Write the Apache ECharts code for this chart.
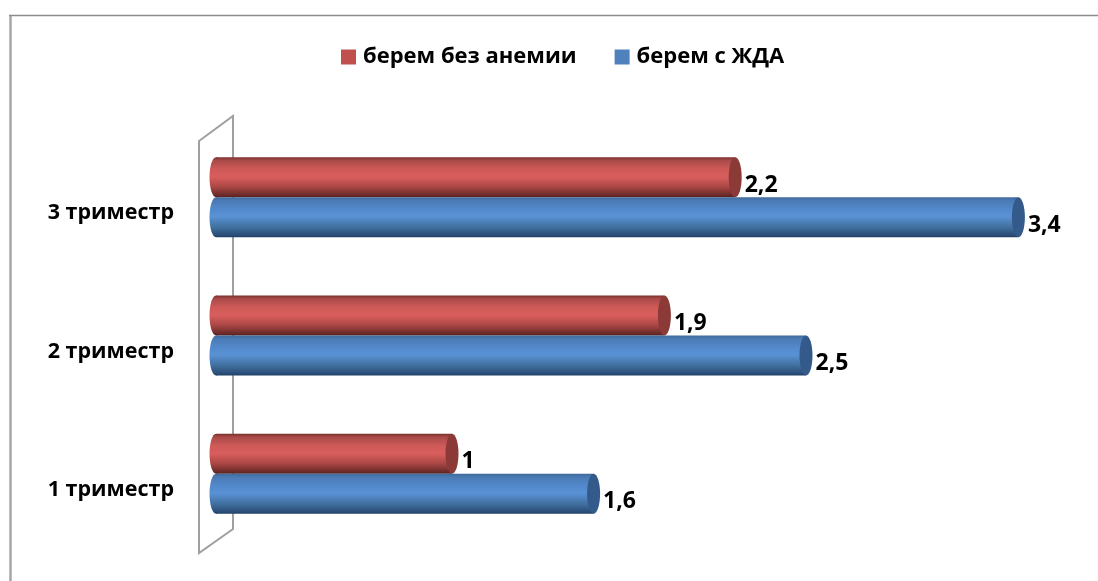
<!DOCTYPE html>
<html>
<head>
<meta charset="utf-8">
<style>html,body{margin:0;padding:0;background:#fff}#chart{width:1098px;height:581px}</style>
<script src="https://cdn.jsdelivr.net/npm/echarts@6/dist/echarts.min.js"></script>
</head>
<body>
<div id="chart"></div>
<script>
var categories = ['1 триместр', '2 триместр', '3 триместр'];
var noAnemia = [1, 1.9, 2.2];
var withIda = [1.6, 2.5, 3.4];
var fontName = '"Open Sans", sans-serif';

function gradient(stops) {
    return new echarts.graphic.LinearGradient(0, 0, 0, 1, stops);
}

// horizontal cylinder: body + left round + darker end cap
function cylinder(capColor, fill, slot) {
    return function (params, api) {
        var end = api.coord([api.value(0), api.value(1)]);
        var start = api.coord([0, api.value(1)]);
        var band = api.size([0, 1])[1];
        var h = band * 0.289;
        var y = end[1] + (slot === 0 ? -h : 0);
        var rx = 6.5;
        var val = String(api.value(0)).replace('.', ',');
        return {
            type: 'group',
            children: [
                {type: 'ellipse', shape: {cx: start[0], cy: y + h / 2, rx: rx, ry: h / 2}, style: {fill: fill}},
                {type: 'rect', shape: {x: start[0], y: y, width: end[0] - start[0], height: h}, style: {fill: fill}},
                {type: 'ellipse', shape: {cx: end[0], cy: y + h / 2, rx: rx, ry: h / 2}, style: {fill: capColor}},
                {
                    type: 'text',
                    x: end[0] + rx + 3,
                    y: y + h / 2 + 8,
                    style: {
                        text: val,
                        fill: '#000',
                        font: 'bold 23px ' + fontName,
                        textVerticalAlign: 'middle'
                    }
                }
            ]
        };
    };
}

var redFill = gradient([
    {offset: 0, color: '#7a302e'},
    {offset: 0.08, color: '#a84a48'},
    {offset: 0.3, color: '#cf5a58'},
    {offset: 0.5, color: '#d85e5c'},
    {offset: 0.75, color: '#a84644'},
    {offset: 0.95, color: '#6a2a28'},
    {offset: 1, color: '#552220'}
]);
var blueFill = gradient([
    {offset: 0, color: '#41699b'},
    {offset: 0.08, color: '#4a7ab4'},
    {offset: 0.3, color: '#5389cc'},
    {offset: 0.48, color: '#5a92d6'},
    {offset: 0.75, color: '#41709f'},
    {offset: 0.95, color: '#2a4d78'},
    {offset: 1, color: '#213f64'}
]);

var chart = echarts.init(document.getElementById('chart'));
chart.setOption({
    animation: false,
    backgroundColor: '#fff',
    graphic: [
        {type: 'line', z: 0, shape: {x1: 10.5, y1: 15, x2: 10.5, y2: 581}, style: {stroke: '#a6a6a6', lineWidth: 2.5}},
        {type: 'line', z: 0, shape: {x1: 9, y1: 15.5, x2: 1098, y2: 15.5}, style: {stroke: '#8c8c8c', lineWidth: 1.5}},
        {type: 'polygon', z: 0, shape: {points: [[199, 141], [233, 116], [233, 529], [199, 553]]}, style: {fill: 'none', stroke: '#a0a0a0', lineWidth: 2}}
    ],
    legend: {
        left: 336,
        top: 41,
        itemWidth: 15,
        itemHeight: 15,
        itemGap: 38,
        selectedMode: false,
        textStyle: {fontFamily: fontName, fontWeight: 'bold', fontSize: 22, color: '#000', padding: [0, 0, 0, 2]},
        data: [
            {name: 'берем без анемии', icon: 'rect', itemStyle: {color: '#c0504d'}},
            {name: 'берем с ЖДА', icon: 'rect', itemStyle: {color: '#4f81bd'}}
        ]
    },
    grid: {left: 216, right: 56, top: 128, bottom: 38},
    xAxis: {type: 'value', min: 0, max: 3.5, show: false},
    yAxis: {
        type: 'category',
        data: categories,
        axisLine: {show: false},
        axisTick: {show: false},
        axisLabel: {
            margin: 42,
            fontFamily: fontName,
            fontWeight: 'bold',
            fontSize: 21.5,
            color: '#000',
            verticalAlign: 'top',
            lineHeight: 32
        }
    },
    series: [
        {
            name: 'берем без анемии',
            type: 'custom',
            coordinateSystem: 'cartesian2d',
            itemStyle: {color: '#c0504d'},
            renderItem: cylinder('#8b3a38', redFill, 0),
            encode: {x: 0, y: 1},
            data: noAnemia.map(function (v, i) { return [v, i]; }),
            clip: false,
            z: 3
        },
        {
            name: 'берем с ЖДА',
            type: 'custom',
            coordinateSystem: 'cartesian2d',
            itemStyle: {color: '#4f81bd'},
            renderItem: cylinder('#335a8a', blueFill, 1),
            encode: {x: 0, y: 1},
            data: withIda.map(function (v, i) { return [v, i]; }),
            clip: false,
            z: 3
        }
    ]
});
</script>
</body>
</html>
